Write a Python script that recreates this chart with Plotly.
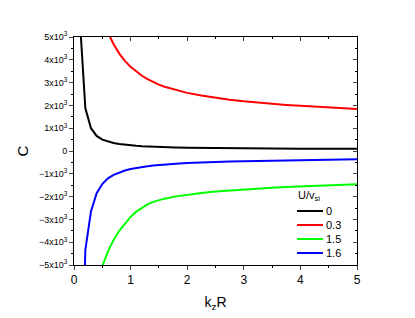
import plotly.graph_objects as go

k = [0.1, 0.2, 0.3, 0.4, 0.5, 0.6, 0.7, 0.8, 0.9, 1.0, 1.1, 1.2, 1.3, 1.4, 1.5, 1.6, 1.8, 2.0,
     2.25, 2.5, 2.75, 3.0, 3.25, 3.5, 3.75, 4.0, 4.25, 4.5, 4.75, 5.0]

c_u0 = [5900, 1880, 1000, 660, 500, 410, 350, 305, 272, 248, 228, 212, 198, 187, 177, 169,
        156, 146, 137, 129, 122, 117, 113, 109, 106, 103, 101, 99, 97, 95]
c_u03 = [None, None, None, None, None, 5200, 4680, 4270, 3950, 3690, 3480, 3300, 3150, 3020,
         2910, 2820, 2670, 2550, 2430, 2330, 2250, 2180, 2120, 2070, 2020, 1980, 1940, 1900,
         1870, 1840]
c_u15 = [None, None, None, -6500, -5050, -4400, -3900, -3500, -3170, -2890, -2660, -2480,
         -2340, -2230, -2150, -2090, -1990, -1920, -1840, -1780, -1730, -1680, -1640, -1610,
         -1580, -1550, -1520, -1500, -1480, -1460]
c_u16 = [-15000, -4350, -2650, -1850, -1450, -1200, -1050, -935, -855, -790, -740, -700,
         -668, -640, -615, -595, -560, -530, -500, -478, -460, -445, -430, -418, -407, -397,
         -388, -380, -372, -365]

series_names = ["0", "0.3", "1.5", "1.6"]
series_vals = [c_u0, c_u03, c_u15, c_u16]
series_colors = ["#000000", "#ff0000", "#00ff00", "#0000ff"]
legend_title = "U/v<sub>si</sub>"

ytick_vals = [-5000, -4000, -3000, -2000, -1000, 0, 1000, 2000, 3000, 4000, 5000]
ytick_text = ["\u22125x10<sup>3</sup>", "\u22124x10<sup>3</sup>", "\u22123x10<sup>3</sup>",
              "\u22122x10<sup>3</sup>", "\u22121x10<sup>3</sup>", "0",
              "1x10<sup>3</sup>", "2x10<sup>3</sup>", "3x10<sup>3</sup>",
              "4x10<sup>3</sup>", "5x10<sup>3</sup>"]
xtick_vals = [0, 1, 2, 3, 4, 5]

FONT = "Liberation Sans, Arial, sans-serif"
OFF = 8  # page body margin
W, H = 415 - OFF, 318 - OFF
ML, MR, MT, MB = 74 - OFF, 58, 37 - OFF, 53

fig = go.Figure()
for name, vals, col in zip(series_names, series_vals, series_colors):
    fig.add_trace(go.Scatter(x=k, y=vals, mode="lines", name=name,
                             line=dict(color=col, width=2), connectgaps=False,
                             showlegend=False))

# invisible trace for mirror axes
fig.add_trace(go.Scatter(x=[0, 5], y=[-5000, 5000], xaxis="x2", yaxis="y2",
                         mode="markers", marker=dict(opacity=0), showlegend=False,
                         hoverinfo="skip"))

# manual legend (compact, in paper coordinates; args are page pixels)
pw, ph = W - ML - MR, H - MT - MB
def px_x(p):
    return (p - OFF - ML) / pw
def px_y(p):
    return (H - MB - (p - OFF)) / ph

fig.add_annotation(x=px_x(296), y=px_y(196), xref="paper", yref="paper",
                   text=legend_title, showarrow=False, xanchor="left", yanchor="middle",
                   font=dict(size=11, family=FONT, color="black"))
for i, (name, col) in enumerate(zip(series_names, series_colors)):
    yy = 211 + 14 * i
    fig.add_shape(type="line", xref="paper", yref="paper",
                  x0=px_x(297), x1=px_x(323), y0=px_y(yy), y1=px_y(yy),
                  line=dict(color=col, width=2))
    fig.add_annotation(x=px_x(324), y=px_y(yy), xref="paper", yref="paper",
                       text=name, showarrow=False, xanchor="left", yanchor="middle",
                       font=dict(size=11, family=FONT, color="black"))

fig.update_layout(
    width=W, height=H,
    margin=dict(l=ML, r=MR, t=MT, b=MB, autoexpand=False),
    paper_bgcolor="white", plot_bgcolor="white",
    font=dict(family=FONT, color="black"),
    showlegend=False,
    xaxis=dict(range=[0, 5], tickvals=xtick_vals, ticks="outside", ticklen=4,
               tickwidth=1, showline=True, linecolor="black", linewidth=1,
               showgrid=False, zeroline=False, tickfont=dict(size=12), automargin=False,
               minor=dict(dtick=0.5, ticks="outside", ticklen=2, tickcolor="black"),
               title=dict(text="k<sub>z</sub>R", font=dict(size=14), standoff=10)),
    yaxis=dict(range=[-5000, 5000], tickvals=ytick_vals, ticktext=ytick_text,
               ticks="outside", ticklen=4, tickwidth=1, showline=True,
               linecolor="black", linewidth=1, showgrid=False, zeroline=False,
               tickfont=dict(size=9), automargin=False,
               minor=dict(dtick=500, ticks="outside", ticklen=2, tickcolor="black"),
               title=dict(text="C", font=dict(size=15), standoff=6)),
    xaxis2=dict(range=[0, 5], overlaying="x", side="top", tickvals=xtick_vals,
                ticks="inside", ticklen=4, showticklabels=False, showline=True,
                linecolor="black", linewidth=1, showgrid=False, zeroline=False,
                automargin=False,
                minor=dict(dtick=0.5, ticks="inside", ticklen=2, tickcolor="black")),
    yaxis2=dict(range=[-5000, 5000], overlaying="y", side="right",
                tickvals=ytick_vals, ticks="inside", ticklen=4, showticklabels=False,
                showline=True, linecolor="black", linewidth=1, showgrid=False,
                zeroline=False, automargin=False,
                minor=dict(dtick=500, ticks="inside", ticklen=2, tickcolor="black")),
)

fig.write_html("out.html")
